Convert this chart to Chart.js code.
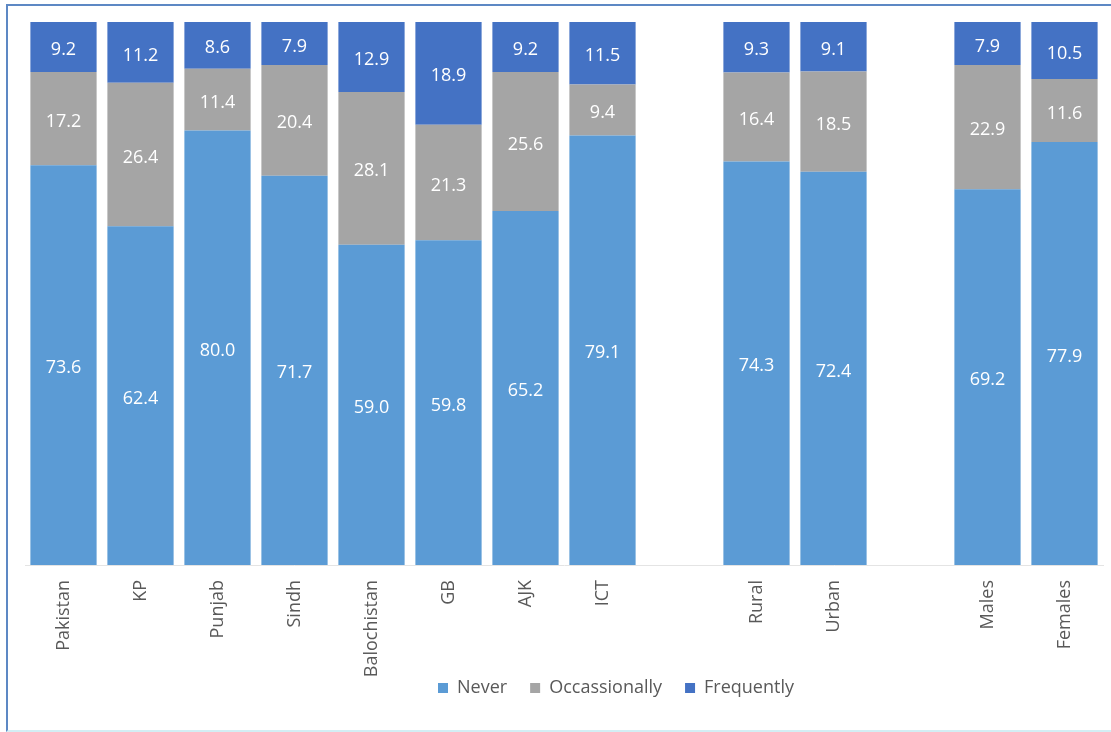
<!DOCTYPE html>
<html>
<head>
<meta charset="utf-8">
<title>Frequency by region, locality and gender</title>
<script src="https://cdn.jsdelivr.net/npm/chart.js@4/dist/chart.umd.min.js"></script>
<style>
  html, body { margin: 0; padding: 0; background: #ffffff; }
  #wrap { position: relative; width: 1111px; height: 732px; overflow: hidden; }
  #chart { position: absolute; left: 0; top: 0; }
  #frame {
    position: absolute; left: 6px; top: 4px; width: 1120px; height: 724px;
    border-left: 2px solid #5d88c4; border-top: 2px solid #5d88c4;
    border-bottom: 2px solid #d3eef4; pointer-events: none;
  }
</style>
</head>
<body>
<div id="wrap">
  <canvas id="chart" width="1111" height="732"></canvas>
  <div id="frame"></div>
</div>
<script>
// Categories (blank entries separate the region, locality and gender groups)
const categories = ['Pakistan', 'KP', 'Punjab', 'Sindh', 'Balochistan', 'GB', 'AJK', 'ICT', '', 'Rural', 'Urban', '', 'Males', 'Females'];

// Percentages per category
const never        = [73.6, 62.4, 80.0, 71.7, 59.0, 59.8, 65.2, 79.1, null, 74.3, 72.4, null, 69.2, 77.9];
const occasionally = [17.2, 26.4, 11.4, 20.4, 28.1, 21.3, 25.6,  9.4, null, 16.4, 18.5, null, 22.9, 11.6];
const frequently   = [ 9.2, 11.2,  8.6,  7.9, 12.9, 18.9,  9.2, 11.5, null,  9.3,  9.1, null,  7.9, 10.5];

const seriesNames = ['Never', 'Occassionally', 'Frequently'];

const FONT = "'Open Sans', 'DejaVu Sans', sans-serif";
const TEXT_GREY = '#595959';

// Writes each segment's value in the middle of its bar piece
const segmentLabels = {
  id: 'segmentLabels',
  afterDatasetsDraw(chart) {
    const ctx = chart.ctx;
    ctx.save();
    ctx.font = '18px ' + FONT;
    ctx.fillStyle = '#ffffff';
    ctx.textAlign = 'center';
    ctx.textBaseline = 'middle';
    chart.data.datasets.forEach((ds, di) => {
      const meta = chart.getDatasetMeta(di);
      meta.data.forEach((bar, i) => {
        const v = ds.data[i];
        if (v === null || v === undefined) return;
        const p = bar.getProps(['x', 'y', 'base'], true);
        ctx.fillText(v.toFixed(1), p.x, (p.y + p.base) / 2 + 3);
      });
    });
    ctx.restore();
  }
};

// Places the legend row under the axis labels
const legendPlacement = {
  id: 'legendPlacement',
  afterLayout(chart) {
    const lg = chart.legend;
    if (!lg) return;
    const dx = 616 - (lg.left + lg.right) / 2;
    const pad = lg.options.labels.padding;
    const dy = 688 - (lg.top + pad + 9);
    lg.left += dx; lg.right += dx;
    lg.top += dy; lg.bottom += dy;
  }
};

new Chart(document.getElementById('chart'), {
  type: 'bar',
  data: {
    labels: categories,
    datasets: [
      { label: seriesNames[0], data: never,        backgroundColor: '#5b9bd5' },
      { label: seriesNames[1], data: occasionally, backgroundColor: '#a5a5a5' },
      { label: seriesNames[2], data: frequently,   backgroundColor: '#4472c4' }
    ]
  },
  options: {
    responsive: false,
    animation: false,
    devicePixelRatio: 1,
    datasets: { bar: { categoryPercentage: 0.86, barPercentage: 1.0 } },
    layout: { padding: { left: 25, right: 8, top: 22, bottom: -9 } },
    scales: {
      x: {
        stacked: true,
        grid: { display: false, drawTicks: false },
        border: { display: true, color: '#e4e4e4', width: 1 },
        ticks: {
          minRotation: 90, maxRotation: 90, autoSkip: false, padding: 15,
          color: TEXT_GREY, font: { family: FONT, size: 18 }
        },
        afterFit(scale) { scale.height = 125; }
      },
      y: {
        stacked: true, display: false, min: 0, max: 100
      }
    },
    plugins: {
      legend: {
        position: 'bottom',
        labels: {
          boxWidth: 10, boxHeight: 10, padding: 23,
          color: TEXT_GREY, font: { family: FONT, size: 18 }
        }
      },
      tooltip: { enabled: false }
    }
  },
  plugins: [segmentLabels, legendPlacement]
});
</script>
</body>
</html>
